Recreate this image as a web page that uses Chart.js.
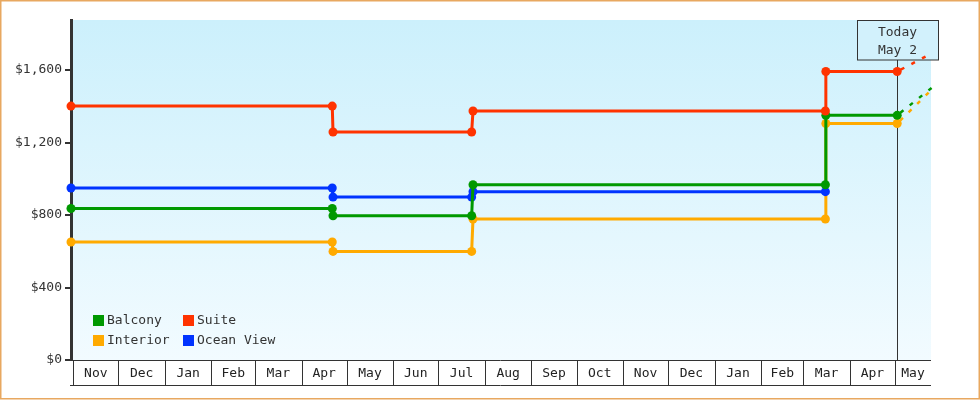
<!DOCTYPE html>
<html><head><meta charset="utf-8">
<script src="https://cdn.jsdelivr.net/npm/chart.js@4.4.1/dist/chart.umd.min.js"></script>
<style>html,body{margin:0;padding:0;background:#fff;} canvas{display:block}</style>
</head><body><canvas id="c" width="980" height="400"></canvas>
<script>
// x values are days since 1 Nov 2023
const monthLabels = ['Nov','Dec','Jan','Feb','Mar','Apr','May','Jun','Jul','Aug','Sep','Oct','Nov','Dec','Jan','Feb','Mar','Apr','May'];
const yTickValues = [0, 400, 800, 1200, 1600];
const rangeStart = -1.53, rangeEnd = 571.0;
const todayDay = 548.5;
const todayLabel = ['Today', 'May 2'];

const seriesNames = ['Balcony', 'Suite', 'Interior', 'Ocean View'];
const balconyDays = [-1.53, 172.4, 172.9, 265.2, 266.1, 500.7, 501.0, 548.5];
const balconyPrices = [836, 836, 796, 796, 967, 967, 1350, 1350];
const suiteDays = [-1.53, 172.4, 172.9, 265.2, 266.1, 500.7, 501.0, 548.5];
const suitePrices = [1401, 1401, 1258, 1258, 1374, 1374, 1592, 1592];
const interiorDays = [-1.53, 172.4, 172.9, 265.2, 266.1, 500.7, 501.0, 548.5];
const interiorPrices = [651, 651, 599, 599, 778, 778, 1305, 1305];
const oceanDays = [-1.53, 172.4, 172.9, 265.2, 266.1, 500.7];
const oceanPrices = [949, 949, 899, 899, 929, 929];
const projectionDays = [548.5, 571.5];
const balconyProjection = [1350, 1502];
const suiteProjection = [1592, 1692];
const interiorProjection = [1305, 1492];

const colors = {Balcony:'#009900', Suite:'#ff3300', Interior:'#ffaa00', 'Ocean View':'#0033ff'};
const FONT = '13px "DejaVu Sans Mono", "Liberation Mono", monospace';

function pts(xs, ys){ return xs.map((x,i)=>({x:x, y:ys[i]})); }
function mainSet(name, xs, ys){
  return {label:name, data:pts(xs,ys), borderColor:colors[name], backgroundColor:colors[name],
    borderWidth:3, pointRadius:4.5, pointBorderWidth:0, pointBackgroundColor:colors[name],
    tension:0, clip:false, fill:false};
}
function projSet(name, ys){
  return {label:name+' projection', data:pts(projectionDays, ys), borderColor:colors[name],
    borderWidth:2.5, borderDash:[4,8], borderDashOffset:-4, pointRadius:0, tension:0, fill:false, clip:false};
}

const monthStarts = monthLabels.map((m,i)=> (Date.UTC(2023, 10+i, 1) - Date.UTC(2023,10,1))/86400000);

const decor = {
  id:'decor',
  beforeDraw(chart){
    const c = chart.ctx, a = chart.chartArea;
    c.save();
    c.fillStyle = '#fff'; c.fillRect(0,0,chart.width,chart.height);
    const g = c.createLinearGradient(0,a.top,0,a.bottom);
    g.addColorStop(0,'#ccf0fc'); g.addColorStop(1,'#f2fbff');
    c.fillStyle = g; c.fillRect(a.left, a.top, a.right-a.left, a.bottom-a.top);
    c.strokeStyle = '#e8a860'; c.lineWidth = 1.5;
    c.strokeRect(0.75,0.75,chart.width-1.5,chart.height-2);
    c.restore();
  },
  beforeDatasetsDraw(chart){
    const c = chart.ctx, a = chart.chartArea, xs = chart.scales.x;
    const tx = Math.round(xs.getPixelForValue(todayDay)) + 0.5;
    c.save(); c.strokeStyle = '#333'; c.lineWidth = 1;
    c.beginPath(); c.moveTo(tx, 60); c.lineTo(tx, a.bottom); c.stroke();
    // today box
    c.fillStyle = '#d2f1fc'; c.fillRect(tx-40, 20, 81, 40);
    c.strokeRect(tx-40, 20.5, 81, 39.5);
    c.fillStyle = '#333'; c.font = FONT; c.textAlign = 'center'; c.textBaseline = 'middle';
    c.fillText(todayLabel[0], tx, 32.5);
    c.fillText(todayLabel[1], tx, 50.5);
    c.restore();
  },
  afterDatasetsDraw(chart){
    const c = chart.ctx, a = chart.chartArea, xs = chart.scales.x;
    c.save();
    // month strip
    c.strokeStyle = '#333'; c.lineWidth = 1;
    const top = a.bottom + 0.5, bot = 385.5;
    c.beginPath(); c.moveTo(a.left-1, top); c.lineTo(a.right, top);
    c.moveTo(a.left-1, bot); c.lineTo(a.right, bot);
    monthStarts.forEach(d=>{ const x = Math.round(xs.getPixelForValue(d))+0.5; c.moveTo(x, top); c.lineTo(x, bot); });
    c.stroke();
    c.fillStyle = '#222'; c.font = FONT; c.textAlign = 'center'; c.textBaseline = 'middle';
    monthLabels.forEach((m,i)=>{
      const x0 = xs.getPixelForValue(monthStarts[i]);
      const x1 = i+1 < monthStarts.length ? xs.getPixelForValue(monthStarts[i+1]) : a.right;
      c.fillText(m, (x0+x1)/2, 373.5);
    });
    // legend
    c.textAlign = 'left';
    const cols = [93, 183], rows = [315, 335];
    seriesNames.forEach((n,i)=>{
      const x = cols[i%2], y = rows[Math.floor(i/2)];
      c.fillStyle = colors[n]; c.fillRect(x, y, 11, 11);
      c.fillStyle = '#333'; c.fillText(n, x+14, y+6);
    });
    c.restore();
  }
};

new Chart(document.getElementById('c'), {
  type:'line',
  data:{datasets:[
    mainSet('Suite', suiteDays, suitePrices),
    mainSet('Balcony', balconyDays, balconyPrices),
    mainSet('Ocean View', oceanDays, oceanPrices),
    mainSet('Interior', interiorDays, interiorPrices),
    projSet('Suite', suiteProjection),
    projSet('Balcony', balconyProjection),
    projSet('Interior', interiorProjection)
  ]},
  options:{
    responsive:false, animation:false, devicePixelRatio:1, events:[],
    layout:{padding:{left:0, top:20, right:49, bottom:40}},
    plugins:{legend:{display:false}, tooltip:{enabled:false}},
    scales:{
      x:{type:'linear', min:rangeStart, max:rangeEnd, display:false},
      y:{min:0, max:1876,
        afterBuildTicks:s=>{ s.ticks = yTickValues.map(v=>({value:v})); },
        afterFit:s=>{ s.width = 71; },
        border:{color:'#333', width:3},
        grid:{drawOnChartArea:false, color:'#333', lineWidth:2, tickLength:6},
        ticks:{color:'#333', padding:3, font:{family:'"DejaVu Sans Mono", monospace', size:13},
          callback:v=>'$'+Number(v).toLocaleString('en-US')}
      }
    }
  },
  plugins:[decor]
});
</script>
</body></html>
